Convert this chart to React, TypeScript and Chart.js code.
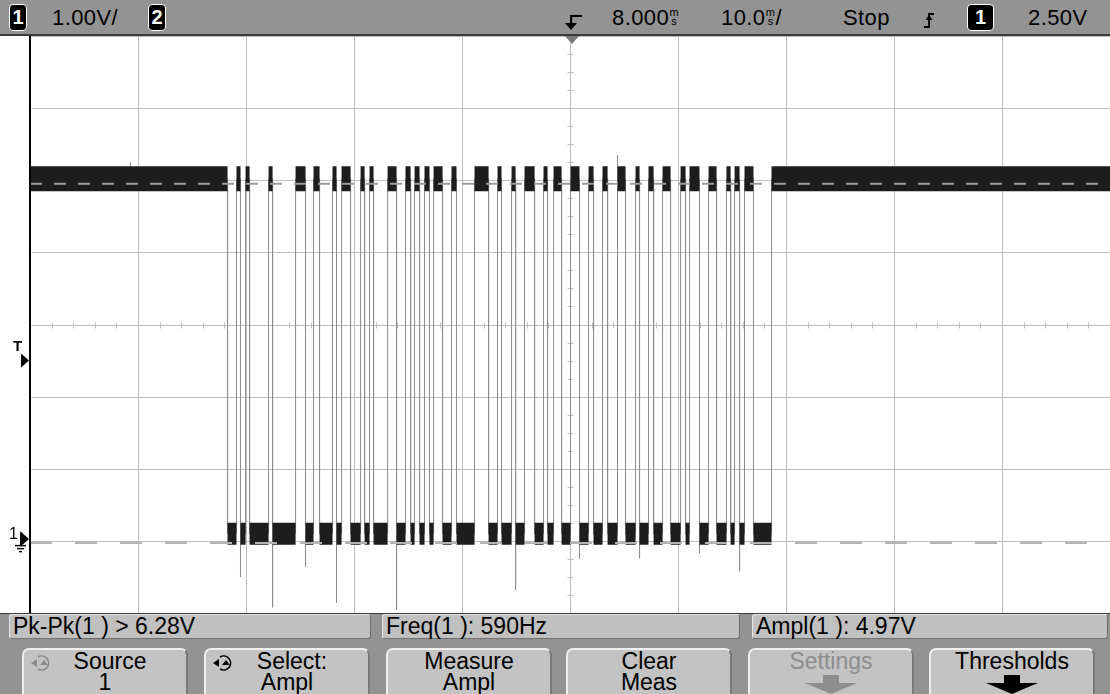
import React, { useEffect, useRef } from "react";
import { Chart, registerables } from "chart.js";
Chart.register(...registerables);

// ---- axes (time in ms, 10 ms/div; volts, 1 V/div) ----
const TIME_MIN = -50;
const TIME_MAX = 50;
const VOLT_MIN = -1;
const VOLT_MAX = 7;
const TIME_GRID = [-50, -40, -30, -20, -10, 0, 10, 20, 30, 40, 50];
const VOLT_GRID = [-1, 0, 1, 2, 3, 4, 5, 6, 7];
const CENTER_TIME = 0;
const CENTER_VOLT = 3;
const MINOR_TIME_STEP = 2;
const MINOR_VOLT_STEP = 0.25;

// ---- signal levels ----
const HIGH_LEVEL = 5.02;
const LOW_LEVEL = 0.1;
const TOP_MARKER = 4.95;
const BASE_MARKER = -0.03;
const TRIGGER_LEVEL = 2.5;
const TRIGGER_TIME = 0;
const GROUND_LEVEL = 0;

// edge times (ms); first edge falls, edges alternate
const TRANSITIONS = [
  -31.71, -30.88, -30.51, -30.04, -29.67, -27.91, -27.54, -25.41, -24.49, -23.75,
  -23.19, -21.99, -21.62, -21.15, -20.32, -19.39, -19.02, -18.56, -18.19, -16.89,
  -16.06, -15.23, -14.76, -14.39, -13.93, -13.47, -13.01, -12.63, -11.8, -10.97,
  -10.51, -8.84, -7.54, -6.71, -6.34, -5.41, -5.04, -4.21, -3.28, -2.45,
  -2.08, -1.52, -0.78, 0.05, 0.88, 1.72, 2.18, 3.01, 3.48, 4.4,
  5.14, 6.07, 6.44, 7.27, 7.74, 8.57, 9.31, 10.24, 10.7, 11.07,
  11.99, 12.83, 13.57, 14.49, 14.87, 15.24, 15.7, 16.16, 16.99, 18.66,
];

// undershoot glitches below the low level
const GLITCH_TIMES = [-30.51, -27.54, -24.49, -21.62, -16.06, -5.04, 0.88, 6.44, 11.99, 15.7];
const GLITCH_VOLTS = [-0.5, -0.92, -0.36, -0.86, -0.95, -0.68, -0.25, -0.24, -0.17, -0.42];
// overshoot spikes above the high level
const SPIKE_TIMES = [4.4, -40.7];
const SPIKE_VOLTS = [5.35, 5.25];

const GRID_COLOR = "#bdbdbd";
const BAND_COLOR = "#1d1d1d";
const EDGE_COLOR = "#8c8c8c";

type Pt = { x: number; y: number | null };

function buildSegments() {
  const high: number[][] = [];
  const low: number[][] = [];
  let prev = TIME_MIN;
  TRANSITIONS.forEach((t, i) => {
    (i % 2 === 0 ? high : low).push([prev, t]);
    prev = t;
  });
  high.push([prev, TIME_MAX]);
  return { high, low };
}

function segPoints(segs: number[][], level: number): Pt[] {
  const out: Pt[] = [];
  segs.forEach(([a, b]) => {
    out.push({ x: a, y: level }, { x: b, y: level }, { x: b, y: null });
  });
  return out;
}

function tracePoints(): Pt[] {
  const out: Pt[] = [{ x: TIME_MIN, y: HIGH_LEVEL }];
  TRANSITIONS.forEach((t, i) => {
    const from = i % 2 === 0 ? HIGH_LEVEL : LOW_LEVEL;
    const to = i % 2 === 0 ? LOW_LEVEL : HIGH_LEVEL;
    out.push({ x: t, y: from }, { x: t, y: to });
  });
  out.push({ x: TIME_MAX, y: HIGH_LEVEL });
  return out;
}

function spikePoints(times: number[], volts: number[], base: number): Pt[] {
  const out: Pt[] = [];
  times.forEach((t, i) => {
    out.push({ x: t, y: base }, { x: t, y: volts[i] }, { x: t, y: null });
  });
  return out;
}

const scopePlugin = {
  id: "scope",
  beforeDatasetsDraw(chart: any) {
    const { ctx, chartArea: a, scales } = chart;
    const x = scales.x;
    const y = scales.y;
    ctx.save();
    ctx.strokeStyle = GRID_COLOR;
    ctx.lineWidth = 1;
    ctx.beginPath();
    TIME_GRID.forEach((t) => {
      const px = Math.round(x.getPixelForValue(t)) + 0.5;
      ctx.moveTo(px, a.top);
      ctx.lineTo(px, a.bottom);
    });
    VOLT_GRID.forEach((v) => {
      const py = Math.round(y.getPixelForValue(v)) + 0.5;
      ctx.moveTo(a.left, py);
      ctx.lineTo(a.right, py);
    });
    const cx = Math.round(x.getPixelForValue(CENTER_TIME)) + 0.5;
    const cy = Math.round(y.getPixelForValue(CENTER_VOLT)) + 0.5;
    for (let t = TIME_MIN; t <= TIME_MAX; t += MINOR_TIME_STEP) {
      const px = Math.round(x.getPixelForValue(t)) + 0.5;
      ctx.moveTo(px, cy - 3);
      ctx.lineTo(px, cy + 3);
    }
    for (let v = VOLT_MIN; v <= VOLT_MAX; v += MINOR_VOLT_STEP) {
      const py = Math.round(y.getPixelForValue(v)) + 0.5;
      ctx.moveTo(cx - 3, py);
      ctx.lineTo(cx + 3, py);
    }
    ctx.stroke();
    ctx.restore();
  },
  afterDraw(chart: any) {
    const { ctx, chartArea: a, scales } = chart;
    const x = scales.x;
    const y = scales.y;
    ctx.save();
    // left frame
    ctx.fillStyle = "#000";
    ctx.fillRect(a.left - 1, a.top, 2, a.bottom - a.top);
    // trigger level arrow
    const ty = y.getPixelForValue(TRIGGER_LEVEL);
    ctx.beginPath();
    ctx.moveTo(a.left - 9, ty - 7);
    ctx.lineTo(a.left - 1, ty);
    ctx.lineTo(a.left - 9, ty + 7);
    ctx.closePath();
    ctx.fill();
    // ground arrow + symbol
    const gy = y.getPixelForValue(GROUND_LEVEL) - 2;
    ctx.beginPath();
    ctx.moveTo(a.left - 9, gy - 7);
    ctx.lineTo(a.left - 1, gy);
    ctx.lineTo(a.left - 9, gy + 7);
    ctx.closePath();
    ctx.fill();
    ctx.fillRect(a.left - 10, gy - 7, 1.5, 14);
    ctx.fillRect(a.left - 15, gy + 6, 11, 1.5);
    ctx.fillRect(a.left - 13, gy + 9, 7, 1.5);
    ctx.fillRect(a.left - 11, gy + 12, 3, 1.5);
    // trigger position marker under the status line
    const tx = x.getPixelForValue(TRIGGER_TIME) + 2;
    ctx.fillStyle = "#7a7a7a";
    ctx.beginPath();
    ctx.moveTo(tx - 7, a.top);
    ctx.lineTo(tx + 7, a.top);
    ctx.lineTo(tx, a.top + 8);
    ctx.closePath();
    ctx.fill();
    ctx.restore();
  },
};

const FONT = '"Liberation Sans", Arial, sans-serif';
const BAR_GRAY = "#939393";
const TOP_FONT = 22;
const PANEL_FONT = 23;

function ChanBox({ left, label, width = 18 }: { left: number; label: string; width?: number }) {
  return (
    <div
      style={{
        position: "absolute",
        left,
        top: 4,
        width,
        height: 27,
        boxSizing: "border-box",
        background: "#000",
        border: "1.5px solid #fff",
        borderRadius: 4,
        color: "#fff",
        fontSize: 20,
        lineHeight: "25px",
        textAlign: "center",
        fontWeight: "bold",
      }}
    >
      {label}
    </div>
  );
}

function TopText({ left, children }: { left: number; children: React.ReactNode }) {
  return (
    <div
      style={{
        position: "absolute",
        left,
        top: 4,
        fontSize: TOP_FONT,
        lineHeight: "27px",
        whiteSpace: "pre",
        letterSpacing: 0.4,
      }}
    >
      {children}
    </div>
  );
}

function UnitMark() {
  return (
    <span
      style={{
        display: "inline-block",
        fontSize: 11,
        lineHeight: "9px",
        verticalAlign: "top",
        marginTop: 4,
        textAlign: "center",
        width: 10,
        letterSpacing: 0,
      }}
    >
      m<br />s
    </span>
  );
}

function MeasBox({ left, width, text }: { left: number; width: number; text: string }) {
  return (
    <div
      style={{
        position: "absolute",
        left,
        top: 614,
        width,
        height: 25,
        boxSizing: "border-box",
        background: "#c0c0c0",
        borderTop: "1px solid #e6e6e6",
        borderLeft: "1px solid #e6e6e6",
        borderRight: "1px solid #6e6e6e",
        borderBottom: "1px solid #6e6e6e",
        borderRadius: 3,
        fontSize: PANEL_FONT,
        lineHeight: "23px",
        paddingLeft: 3,
        whiteSpace: "pre",
        color: "#000",
      }}
    >
      {text}
    </div>
  );
}

function Button({
  left,
  l1,
  l2,
  color = "#000",
  icon,
  arrow,
}: {
  left: number;
  l1: string;
  l2?: string;
  color?: string;
  icon?: string;
  arrow?: string;
}) {
  return (
    <div
      style={{
        position: "absolute",
        left,
        top: 648,
        width: 166,
        height: 60,
        boxSizing: "border-box",
        background: "#c3c3c3",
        borderTop: "2px solid #efefef",
        borderLeft: "2px solid #efefef",
        borderRight: "2px solid #7a7a7a",
        borderRadius: 7,
        color,
        fontSize: PANEL_FONT,
        lineHeight: "21px",
        textAlign: "center",
        paddingTop: 1,
      }}
    >
      {icon && (
        <svg style={{ position: "absolute", left: 6, top: 3 }} width="24" height="20" viewBox="0 0 24 20">
          <path d="M8 4 A7 7 0 1 1 8 16" fill="none" stroke={icon} strokeWidth="1.6" />
          <path d="M1 10 L7 6 L7 14 Z" fill={icon} />
          <path d="M10 12 L14 7 L18 12 Z" fill={icon} />
        </svg>
      )}
      <div style={{ paddingLeft: icon ? 10 : 0 }}>{l1}</div>
      {l2 && <div>{l2}</div>}
      {arrow && (
        <svg style={{ position: "absolute", left: 55, top: 25 }} width="52" height="20" viewBox="0 0 52 20">
          <rect x="18" y="0" width="16" height="8" fill={arrow} />
          <path d="M0 8 L52 8 L26 19 Z" fill={arrow} />
        </svg>
      )}
    </div>
  );
}

export default function App() {
  const canvasRef = useRef<HTMLCanvasElement | null>(null);

  useEffect(() => {
    const { high, low } = buildSegments();
    const chart = new Chart(canvasRef.current as HTMLCanvasElement, {
      type: "line",
      data: {
        datasets: [
          {
            label: "top marker",
            data: [
              { x: TIME_MIN, y: TOP_MARKER },
              { x: TIME_MAX, y: TOP_MARKER },
            ],
            borderColor: "#9c9c9c",
            borderWidth: 2,
            borderDash: [12, 12],
          },
          {
            label: "base marker",
            data: [
              { x: TIME_MIN, y: BASE_MARKER },
              { x: TIME_MAX, y: BASE_MARKER },
            ],
            borderColor: "#b4b4b4",
            borderWidth: 2,
            borderDash: [22, 23],
          },
          {
            label: "high",
            data: segPoints(high, HIGH_LEVEL),
            borderColor: BAND_COLOR,
            borderWidth: 25,
            borderCapStyle: "butt",
          },
          {
            label: "low",
            data: segPoints(low, LOW_LEVEL),
            borderColor: BAND_COLOR,
            borderWidth: 22,
            borderCapStyle: "butt",
          },
          {
            label: "edges",
            data: tracePoints(),
            borderColor: EDGE_COLOR,
            borderWidth: 1,
          },
          {
            label: "glitches",
            data: spikePoints(GLITCH_TIMES, GLITCH_VOLTS, LOW_LEVEL),
            borderColor: EDGE_COLOR,
            borderWidth: 1,
          },
          {
            label: "spikes",
            data: spikePoints(SPIKE_TIMES, SPIKE_VOLTS, HIGH_LEVEL),
            borderColor: EDGE_COLOR,
            borderWidth: 1,
          },
        ] as any,
      },
      options: {
        animation: false,
        responsive: false,
        devicePixelRatio: 1,
        spanGaps: false,
        layout: { padding: { left: 30, right: 0, top: 0, bottom: 1 } },
        elements: { point: { radius: 0 }, line: { tension: 0 } },
        plugins: { legend: { display: false }, tooltip: { enabled: false } },
        scales: {
          x: { type: "linear", min: TIME_MIN, max: TIME_MAX, display: false },
          y: { type: "linear", min: VOLT_MIN, max: VOLT_MAX, display: false },
        },
      },
      plugins: [scopePlugin],
    });
    return () => chart.destroy();
  }, []);

  return (
    <div
      style={{
        position: "fixed",
        left: 0,
        top: 0,
        width: 1110,
        height: 694,
        background: "#fff",
        overflow: "hidden",
        fontFamily: FONT,
        color: "#000",
      }}
    >
      {/* status line */}
      <div
        style={{
          position: "absolute",
          left: 0,
          top: 0,
          width: 1110,
          height: 36,
          background: BAR_GRAY,
          borderBottom: "2px solid #3c3c3c",
          boxSizing: "border-box",
        }}
      >
        <ChanBox left={9} label="1" />
        <TopText left={52}>1.00V/</TopText>
        <ChanBox left={148} label="2" />
        <svg style={{ position: "absolute", left: 565, top: 12 }} width="18" height="20" viewBox="0 0 18 20">
          <rect x="5" y="3" width="12" height="2" fill="#000" />
          <rect x="5" y="3" width="2.2" height="10" fill="#000" />
          <path d="M0 11 L12 11 L6 18 Z" fill="#000" />
        </svg>
        <TopText left={612}>
          8.000
          <UnitMark />
        </TopText>
        <TopText left={721}>
          10.0
          <UnitMark />/
        </TopText>
        <TopText left={843}>Stop</TopText>
        <svg style={{ position: "absolute", left: 923, top: 10 }} width="12" height="20" viewBox="0 0 12 20">
          <path d="M1 17 H6 V4 H11" fill="none" stroke="#000" strokeWidth="1.8" />
          <path d="M2.5 10 L6 5 L9.5 10 Z" fill="#000" />
        </svg>
        <ChanBox left={967} label="1" width={27} />
        <TopText left={1028}>2.50V</TopText>
      </div>

      {/* waveform area */}
      <div style={{ position: "absolute", left: 0, top: 36, width: 1110, height: 578 }}>
        <canvas ref={canvasRef} width={1110} height={578} style={{ display: "block", width: 1110, height: 578 }} />
        <div style={{ position: "absolute", left: 13, top: 302, fontSize: 15, fontWeight: "bold", lineHeight: "15px" }}>T</div>
        <div style={{ position: "absolute", left: 9, top: 490, fontSize: 16, lineHeight: "16px" }}>1</div>
      </div>

      {/* measurement / softkey panel */}
      <div
        style={{
          position: "absolute",
          left: 0,
          top: 613,
          width: 1110,
          height: 81,
          background: BAR_GRAY,
          borderTop: "1px solid #3c3c3c",
          boxSizing: "border-box",
        }}
      />
      <MeasBox left={9} width={362} text="Pk-Pk(1 ) > 6.28V" />
      <MeasBox left={382} width={358} text="Freq(1 ): 590Hz" />
      <MeasBox left={752} width={356} text="Ampl(1 ): 4.97V" />
      <Button left={22} l1="Source" l2="1" icon="#8a8a8a" />
      <Button left={204} l1="Select:" l2="Ampl" icon="#000" />
      <Button left={386} l1="Measure" l2="Ampl" />
      <Button left={566} l1="Clear" l2="Meas" />
      <Button left={748} l1="Settings" color="#8e8e8e" arrow="#8e8e8e" />
      <Button left={929} l1="Thresholds" arrow="#000" />
    </div>
  );
}
